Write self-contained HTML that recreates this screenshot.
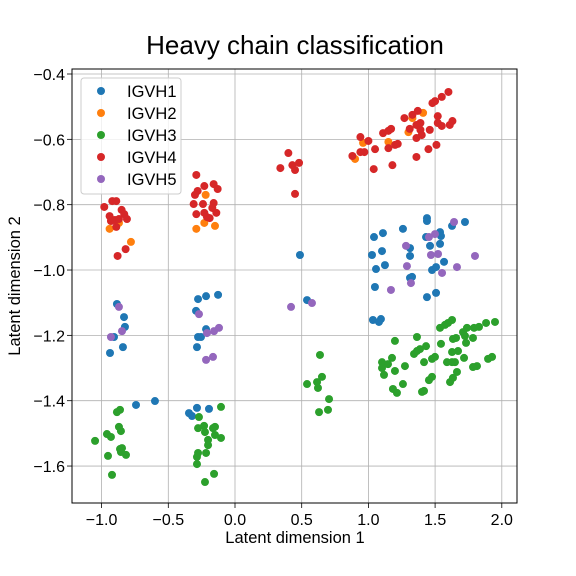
<!DOCTYPE html>
<html><head><meta charset="utf-8">
<style>
html,body{margin:0;padding:0;background:#fff;}
svg{display:block;font-family:"Liberation Sans","DejaVu Sans",sans-serif;}
</style></head>
<body>
<svg id="chart" width="576" height="576" viewBox="0 0 576 576">
<rect width="576" height="576" fill="#fff"/>
<text x="295" y="54" text-anchor="middle" font-size="26" fill="#000">Heavy chain classification</text>
<g id="grid"></g>
<g id="points"></g>
<rect x="72" y="69" width="445" height="434" fill="none" stroke="#000" stroke-width="1"/>
<g id="ticks"></g>
<text x="295" y="543" text-anchor="middle" font-size="16.5">Latent dimension 1</text>
<text transform="translate(20,286) rotate(-90)" text-anchor="middle" font-size="16.5">Latent dimension 2</text>
<g id="legend"></g>
</svg>
<script>
const xTicks=[-1.0,-0.5,0.0,0.5,1.0,1.5,2.0];
const xTickLabels=["\u22121.0","\u22120.5","0.0","0.5","1.0","1.5","2.0"];
const yTicks=[-0.4,-0.6,-0.8,-1.0,-1.2,-1.4,-1.6];
const yTickLabels=["\u22120.4","\u22120.6","\u22120.8","\u22121.0","\u22121.2","\u22121.4","\u22121.6"];
const seriesNames=["IGVH1","IGVH2","IGVH3","IGVH4","IGVH5"];
const seriesColors=["#1f77b4","#ff7f0e","#2ca02c","#d62728","#9467bd"];

const igvh1X=[-0.885,-0.832,-0.825,-0.907,-0.840,-0.937,-0.277,-0.217,-0.127,-0.292,-0.217,-0.277,-0.255,-0.285,-0.742,-0.600,-0.345,-0.322,-0.285,-0.195,0.487,0.540,1.439,1.439,1.724,1.627,1.259,1.109,1.042,1.432,1.537,1.544,1.462,1.537,1.312,1.102,1.027,1.312,1.124,1.057,1.567,1.477,1.507,1.327,1.312,1.049,1.439,1.507,1.034,1.094,1.079];
const igvh1Y=[-1.104,-1.144,-1.174,-1.205,-1.236,-1.254,-1.089,-1.080,-1.076,-1.125,-1.181,-1.205,-1.205,-1.236,-1.413,-1.401,-1.438,-1.447,-1.422,-1.425,-0.954,-1.092,-0.841,-0.850,-0.853,-0.865,-0.874,-0.887,-0.899,-0.899,-0.884,-0.896,-0.926,-0.920,-0.933,-0.942,-0.954,-0.957,-0.985,-0.997,-0.975,-1.000,-0.991,-1.021,-1.024,-1.052,-1.083,-1.070,-1.153,-1.150,-1.159];

const igvh2X=[-0.94,-0.78,-0.87,-0.22,-0.29,-0.23,-0.15,0.96,0.90,1.15,1.30,1.41,1.33];
const igvh2Y=[-0.874,-0.914,-0.856,-0.770,-0.874,-0.856,-0.865,-0.611,-0.660,-0.608,-0.578,-0.519,-0.535];

const igvh3X=[-0.885,-0.862,-0.870,-0.855,-0.960,-0.930,-1.049,-0.862,-0.847,-0.855,-0.817,-0.952,-0.922,-0.105,-0.270,-0.277,-0.232,-0.225,-0.165,-0.150,-0.150,-0.105,-0.202,-0.202,-0.277,-0.285,-0.217,-0.285,-0.157,-0.225,0.637,0.652,0.540,0.615,0.622,0.705,0.697,0.630,1.627,1.597,1.574,1.537,1.739,1.792,1.829,1.882,1.949,1.709,1.724,1.364,1.657,1.634,1.784,1.199,1.732,1.544,1.432,1.387,1.364,1.342,1.672,1.627,1.499,1.477,1.717,1.589,1.627,1.649,1.417,1.927,1.897,1.814,1.784,1.177,1.102,1.147,1.274,1.102,1.199,1.117,1.664,1.634,1.612,1.477,1.454,1.259,1.184,1.214,1.417,1.402];
const igvh3Y=[-1.435,-1.428,-1.480,-1.493,-1.502,-1.511,-1.523,-1.548,-1.545,-1.557,-1.566,-1.569,-1.627,-1.419,-1.450,-1.484,-1.477,-1.496,-1.484,-1.480,-1.505,-1.514,-1.520,-1.536,-1.560,-1.572,-1.560,-1.594,-1.624,-1.649,-1.260,-1.327,-1.349,-1.343,-1.361,-1.395,-1.428,-1.435,-1.153,-1.162,-1.168,-1.177,-1.177,-1.177,-1.174,-1.162,-1.159,-1.190,-1.202,-1.205,-1.208,-1.211,-1.208,-1.217,-1.223,-1.226,-1.233,-1.242,-1.248,-1.257,-1.248,-1.251,-1.266,-1.272,-1.269,-1.282,-1.282,-1.282,-1.282,-1.266,-1.272,-1.294,-1.297,-1.269,-1.282,-1.288,-1.294,-1.300,-1.309,-1.321,-1.312,-1.330,-1.343,-1.327,-1.337,-1.349,-1.364,-1.376,-1.370,-1.373];

const igvh4X=[-0.98,-0.92,-0.89,-0.94,-0.85,-0.83,-0.93,-0.90,-0.87,-0.81,-0.89,-0.82,-0.88,-0.29,-0.28,-0.23,-0.16,-0.13,-0.30,-0.31,-0.24,-0.16,-0.29,-0.23,-0.17,-0.14,-0.21,-0.19,0.40,0.34,0.43,0.45,0.48,0.45,0.94,1.00,0.94,0.97,0.88,1.04,1.05,1.11,1.15,1.17,1.15,1.20,1.22,1.18,1.27,1.33,1.37,1.39,1.36,1.31,1.39,1.40,1.36,1.46,1.45,1.36,1.51,1.52,1.52,1.55,1.61,1.63,1.48,1.50,1.55,1.60];
const igvh4Y=[-0.807,-0.789,-0.789,-0.835,-0.816,-0.829,-0.850,-0.847,-0.844,-0.844,-0.868,-0.936,-0.957,-0.709,-0.758,-0.743,-0.737,-0.752,-0.770,-0.798,-0.798,-0.795,-0.829,-0.825,-0.810,-0.825,-0.838,-0.841,-0.642,-0.688,-0.679,-0.694,-0.672,-0.767,-0.593,-0.605,-0.639,-0.639,-0.651,-0.691,-0.630,-0.581,-0.574,-0.568,-0.627,-0.617,-0.614,-0.679,-0.535,-0.525,-0.513,-0.550,-0.556,-0.568,-0.571,-0.587,-0.596,-0.571,-0.630,-0.654,-0.617,-0.529,-0.550,-0.559,-0.556,-0.544,-0.489,-0.483,-0.470,-0.455];

const igvh5X=[-0.870,-0.847,-0.930,-0.270,-0.210,-0.157,-0.120,-0.217,-0.165,0.420,0.577,1.642,1.499,1.454,1.282,1.469,1.522,1.799,1.289,1.664,1.552,1.319,1.169];
const igvh5Y=[-1.113,-1.187,-1.205,-1.135,-1.193,-1.187,-1.177,-1.275,-1.266,-1.113,-1.101,-0.853,-0.890,-0.899,-0.926,-0.954,-0.951,-0.957,-0.988,-0.991,-1.009,-1.040,-1.061];

const allX=[igvh1X,igvh2X,igvh3X,igvh4X,igvh5X];
const allY=[igvh1Y,igvh2Y,igvh3Y,igvh4Y,igvh5Y];

const NS="http://www.w3.org/2000/svg";
function sx(v){return 235+(v-0)*133.4;}
function sy(v){return 74+(-0.4-v)*326.7;}
function mk(tag,attrs,parent){const e=document.createElementNS(NS,tag);for(const k in attrs)e.setAttribute(k,attrs[k]);parent.appendChild(e);return e;}

const grid=document.getElementById('grid');
const ticks=document.getElementById('ticks');
xTicks.forEach((t,i)=>{
  const x=sx(t);
  const g=mk('line',{x1:x,x2:x,y1:69,y2:503,stroke:'#b0b0b0','stroke-width':0.8},grid);
  
  
  const tk=mk('line',{x1:x,x2:x,y1:503,y2:508,stroke:'#000','stroke-width':0.8},ticks);
  
  
  const lb=mk('text',{x:x,y:525,'text-anchor':'middle','font-size':16},ticks);
  lb.textContent=xTickLabels[i];
  
  
});
yTicks.forEach((t,i)=>{
  const y=sy(t);
  const g=mk('line',{x1:72,x2:517,y1:y,y2:y,stroke:'#b0b0b0','stroke-width':0.8},grid);
  
  
  const tk=mk('line',{x1:67,x2:72,y1:y,y2:y,stroke:'#000','stroke-width':0.8},ticks);
  
  
  const lb=mk('text',{x:65,y:y+6,'text-anchor':'end','font-size':16},ticks);
  lb.textContent=yTickLabels[i];
  
  
});

const pts=document.getElementById('points');
allX.forEach((xs,s)=>{
  const ys=allY[s];
  xs.forEach((xv,i)=>{
    const c=mk('circle',{cx:sx(xv),cy:sy(ys[i]),r:4,fill:seriesColors[s]},pts);
    
    
  });
});

const lg=document.getElementById('legend');
const box=mk('rect',{x:81,y:78,width:100,height:116,rx:3,fill:'#fff','fill-opacity':0.8,stroke:'#cccccc'},lg);


seriesNames.forEach((n,i)=>{
  const y=91+i*22;
  const m=mk('circle',{cx:101,cy:y,r:4,fill:seriesColors[i]},lg);
  
  
  const t=mk('text',{x:127,y:y+6,'font-size':16.5},lg);
  t.textContent=n;
  
  
});
</script>
</body></html>
